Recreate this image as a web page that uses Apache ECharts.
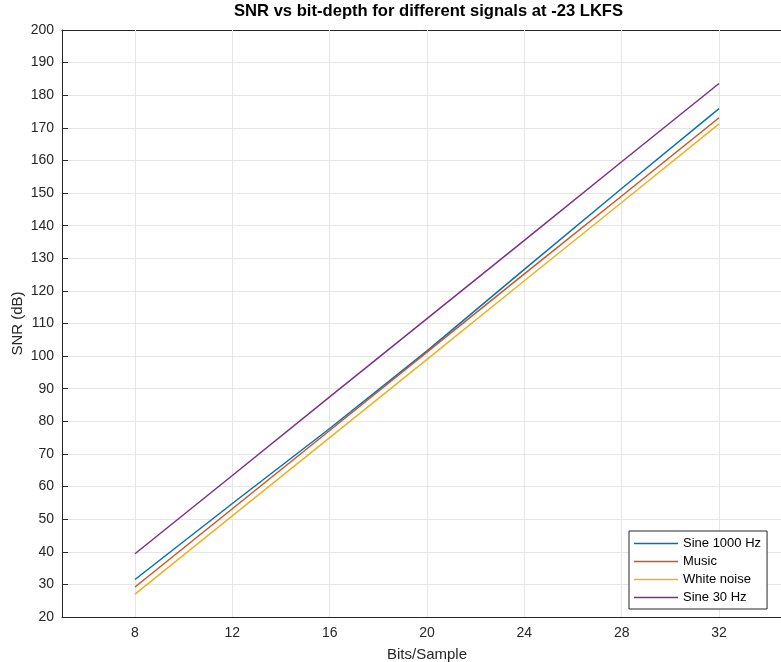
<!DOCTYPE html>
<html>
<head>
<meta charset="utf-8">
<script src="https://cdn.jsdelivr.net/npm/echarts@6/dist/echarts.min.js"></script>
<style>
  html, body { margin: 0; padding: 0; background: #fff; }
  #chart { width: 781px; height: 662px; }
</style>
</head>
<body>
<div id="chart"></div>
<script>
// Bit depths (bits per sample) at which SNR was measured
const bitDepths = [8, 12, 16, 20, 24, 28, 32];

// SNR in dB for each test signal, one value per bit depth
const sine1000 = [31.5, 54.8, 77.8, 101.6, 126.6, 151.4, 175.9];
const music = [29.2, 53.2, 77.2, 101.2, 125.2, 149.1, 173.1];
const whiteNoise = [27.0, 51.0, 75.0, 99.0, 123.1, 147.1, 171.2];
const sine30 = [39.4, 63.4, 87.5, 111.5, 135.5, 159.6, 183.6];

const seriesNames = ['Sine 1000 Hz', 'Music', 'White noise', 'Sine 30 Hz'];
const seriesValues = [sine1000, music, whiteNoise, sine30];
const seriesColors = ['#0072BD', '#D95319', '#EDB120', '#7E2F8E'];

// Axis ranges and tick positions
const xRange = [5, 35];
const xTicks = [8, 12, 16, 20, 24, 28, 32];
const yRange = [20, 200];
const yStep = 10;

const FONT = 'Liberation Sans, Arial, Helvetica, sans-serif';
const AXIS_COLOR = '#262626';
const GRID_COLOR = '#e6e6e6';

const chart = echarts.init(document.getElementById('chart'), null, { renderer: 'canvas' });

const xCommon = {
  type: 'value',
  min: xRange[0],
  max: xRange[1],
  axisLine: { show: true, onZero: false, lineStyle: { color: AXIS_COLOR, width: 1 } },
  axisTick: { show: true, inside: true, length: 6, lineStyle: { color: AXIS_COLOR }, customValues: xTicks },
  splitLine: { show: false }
};

const option = {
  backgroundColor: '#fff',
  animation: false,
  title: {
    text: 'SNR vs bit-depth for different signals at -23 LKFS',
    left: 229,
    top: -2,
    textStyle: { fontFamily: FONT, fontSize: 16.6, fontWeight: 'bold', color: '#000' }
  },
  grid: { left: 62, right: -11, top: 30, bottom: 45, containLabel: false, outerBoundsMode: 'none' },
  xAxis: [
    {
      ...xCommon,
      position: 'bottom',
      name: 'Bits/Sample',
      nameLocation: 'middle',
      nameGap: 30,
      nameTextStyle: { fontFamily: FONT, fontSize: 15, color: AXIS_COLOR },
      axisLabel: { fontFamily: FONT, fontSize: 14, color: AXIS_COLOR, margin: 9, customValues: xTicks }
    },
    {
      ...xCommon,
      position: 'top',
      axisLabel: { show: false }
    }
  ],
  yAxis: [
    {
      type: 'value',
      min: yRange[0],
      max: yRange[1],
      interval: yStep,
      name: 'SNR (dB)',
      nameLocation: 'middle',
      nameGap: 37,
      nameMoveOverlap: false,
      nameTextStyle: { fontFamily: FONT, fontSize: 15, color: AXIS_COLOR },
      axisLine: { show: true, onZero: false, lineStyle: { color: AXIS_COLOR, width: 1 } },
      axisTick: { show: true, inside: true, length: 6, lineStyle: { color: AXIS_COLOR } },
      axisLabel: { fontFamily: FONT, fontSize: 14, color: AXIS_COLOR, margin: 8 },
      splitLine: { show: true, lineStyle: { color: GRID_COLOR, width: 1 } }
    }
  ],
  legend: {
    orient: 'vertical',
    left: 629,
    top: 531,
    padding: [5, 6, 4, 5],
    itemGap: 3,
    itemWidth: 44,
    itemHeight: 1.6,
    icon: 'rect',
    backgroundColor: '#fff',
    borderColor: AXIS_COLOR,
    borderWidth: 1,
    borderRadius: 0,
    textStyle: { fontFamily: FONT, fontSize: 13, color: '#000', lineHeight: 15 },
    data: seriesNames
  },
  series: seriesNames.map((name, i) => ({
    name,
    type: 'line',
    xAxisIndex: 0,
    yAxisIndex: 0,
    data: bitDepths.map((b, j) => [b, seriesValues[i][j]]),
    symbol: 'none',
    showSymbol: false,
    lineStyle: { color: seriesColors[i], width: 1.5 },
    itemStyle: { color: seriesColors[i] },
    z: 3
  }))
};

// vertical grid lines at the labelled bit depths, kept beneath the data lines
option.series.push({
  type: 'line',
  xAxisIndex: 0,
  yAxisIndex: 0,
  data: [],
  silent: true,
  z: 1,
  markLine: {
    z: 1,
    symbol: 'none',
    silent: true,
    animation: false,
    label: { show: false },
    lineStyle: { color: GRID_COLOR, width: 1, type: 'solid' },
    emphasis: { disabled: true },
    data: xTicks.map(b => ({ xAxis: b }))
  }
});

chart.setOption(option);
</script>
</body>
</html>
